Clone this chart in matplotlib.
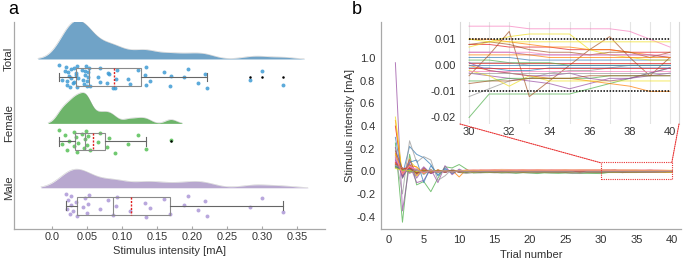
import numpy as np
import matplotlib
matplotlib.use("Agg")
from matplotlib import pyplot as plt
from matplotlib.patches import Rectangle, ConnectionPatch

plt.rcParams["font.family"] = ["Liberation Sans", "DejaVu Sans"]
plt.rcParams["axes.unicode_minus"] = False

# --- panel a: threshold stimulus intensity per subject [mA]
female_ma = [0.0105, 0.014, 0.019, 0.022, 0.025, 0.031, 0.032, 0.034, 0.036, 0.038,
             0.043, 0.046, 0.047, 0.049, 0.050, 0.052, 0.054, 0.066, 0.069, 0.079,
             0.081, 0.090, 0.109, 0.123, 0.135, 0.170]
male_ma = [0.020, 0.022, 0.023, 0.026, 0.027, 0.028, 0.030, 0.035, 0.036, 0.045,
           0.047, 0.050, 0.052, 0.053, 0.069, 0.080, 0.087, 0.092, 0.093, 0.111,
           0.133, 0.135, 0.140, 0.160, 0.168, 0.189, 0.195, 0.208, 0.219, 0.221,
           0.283, 0.300, 0.330]
group_names = ["Total", "Female", "Male"]
a_xticks = [0.0, 0.05, 0.10, 0.15, 0.20, 0.25, 0.30, 0.35]
a_xticklabels = ["0.0", "0.05", "0.10", "0.15", "0.20", "0.25", "0.30", "0.35"]

# --- panel b: per-trial value for each subject, in µA (1 µA = 0.001 mA)
trial_numbers = list(range(1, 41))
subject_trials_ua = [
    [400, -50, 40, -20, 15, -10, 5, -5, 5, -5, 4, -3, 6, 2, 5, 3, 7, 6, 8, 5, 9, 7, 8, 6, 7, 8, 7, 8, 8, 8, 8, 7, 7, 7, 6, 6, 6, 5, 5, 5],
    [120, -30, 220, 150, 120, 60, -40, 30, -20, 10, -8, 5, -4, 6, 2, 4, 3, 2, 4, 3, 3, 2, 3, 4, 3, 3, 3, 2, 3, 3, 3, 3, 2, 2, 2, 2, 2, 2, 2, 2],
    [250, -450, 150, -120, -90, -180, -60, 40, 30, 60, 20, -15, -10, -12, -8, -15, -10, -18, -12, -15, -20, -14, -16, -18, -15, -17, -19, -18, -19, -20, -11, -11, -11, -11, -11, -9, -7, -5, -3, -1],
    [960, -350, 60, -100, -80, 20, -100, 50, -30, 20, -10, 8, -5, 4, -3, 2, -4, -2, -3, -2, -4, -3, -2, -3, -4, -3, -3, -2, -3, -3, -4, -5, -6, -7, -9, -7, -5, -5, -4, -3],
    [450, -60, 110, -40, 30, -20, 15, -10, 10, -50, 15, -10, 12, 8, 14, 10, 12, 11, 13, 10, 12, 11, 10, 11, 12, 10, 11, 10, 10, 10, 10, 9, 8, 7, 7, 6, 6, 5, 4, 3],
    [480, -40, 90, 30, -20, 15, -10, 5, -5, 5, 6, 3, 5, 4, 7, 5, 6, 8, -10, 6, 7, 5, 8, 6, 7, 6, 7, 7, 7, 7, 9, 11, 12, 12, 12, 6, 4, 3, 2, 2],
    [180, 20, 30, -20, 10, -15, 10, -5, 5, -5, -5, 4, -3, 3, -2, 2, -6, 5, -4, 2, -3, 4, -2, 3, -5, 2, -3, 4, -2, -4, 4, 13, -12, -6, 0, 6, 11, 3, -4, 3],
    [90, -20, 50, 10, -10, 5, -5, 5, -5, 5, 12, 15, 14, 16, 15, 17, 16, 15, 16, 15, 16, 15, 15, 16, 15, 15, 15, 15, 15, 15, 15, 15, 14, 14, 14, 14, 14, 13, 10, 7],
    [140, -200, 270, 80, 130, 100, -80, -40, 20, -10, -20, -12, -15, -10, -14, -12, -16, -13, -11, -14, -12, -10, -13, -11, -12, -20, -13, -12, -12, -12, -9, -6, -5, -3, -2, -2, -1, 0, 0, 0],
    [60, 30, -10, 5, -5, 5, -5, 5, 0, 5, 2, 1, 3, 1, 2, 0, 1, 2, 1, 1, 2, 1, 1, 0, 1, 1, 1, 1, 1, 1, 1, 1, 1, 1, 1, 1, 1, 1, 1, 1],
    [300, -60, 80, 100, -100, 50, -30, 20, -15, 10, -6, 4, -3, -2, -4, -1, -3, -2, -2, -1, -2, -1, -2, -1, -2, -1, -1, -1, -1, -1, -1, -2, -2, -1, -1, -1, -1, -1, -1, -1],
    [45, 10, 5, -10, 5, -5, 5, -5, 5, -5, 3, 2, 4, 1, 3, 2, 2, 3, 2, 1, 2, 2, 1, 2, 2, 2, 2, 2, 2, 2, 2, 1, 1, 1, 0, 0, 0, 0, 0, 0],
    [210, -50, 100, -30, 40, -20, 10, -5, 5, -5, 8, 6, 7, 5, 6, 5, 6, 5, 5, 6, 5, 5, 6, 5, 5, 5, 5, 5, 5, 5, 5, 5, 4, 4, 4, 4, 4, 4, 4, 3],
    [70, 20, 20, 15, -10, 5, -5, 5, -5, 5, -3, 2, -1, 1, 0, -1, 1, 0, -1, 0, 1, 0, -1, 0, 0, 1, 0, 0, 0, 0, -2, -3, -4, -5, -5, -6, -7, -8, -10, -10],
    [150, -30, 60, -40, 20, -10, 10, -5, 5, -5, -4, -6, -3, -5, -4, -6, -5, -3, -5, -4, -3, -4, -3, -3, -2, -3, -2, -2, -2, -2, -4, -8, -4, -6, -6, -6, -6, -6, -6, -6],
    [40, 15, 10, 5, 0, 5, 0, 0, 0, 5, 6, 4, 7, 5, 6, 8, 5, 7, 6, 8, 7, 6, 8, 7, 8, 7, 8, 8, 8, 8, 9, 8, 6, 5, 5, 4, 5, 5, 3, 5],
    [110, -10, 40, 20, -15, 10, -5, 5, -5, 5, -4, -2, -3, -1, -2, -3, -2, -1, -2, -2, -1, -2, -2, -1, -2, -2, -2, -2, -2, -2, -2, -2, -2, -2, -2, -2, -2, -2, -2, -2],
    [30, 10, -5, 0, 5, 0, 5, 0, 0, 0, 1, 1, 2, 1, 1, 0, 1, 1, 1, 0, 1, 1, 1, 1, 1, 1, 1, 1, 1, 1, 1, 1, 0, 0, 0, 0, 0, 0, 0, 0],
    [80, 25, 30, -10, 10, -5, 5, -5, 5, -5, -3, -2, -1, -2, -1, -1, -2, -1, -1, -1, -1, -1, -1, -1, -1, -1, -1, -1, -1, -1, -1, -1, -1, -1, -1, -1, -1, -1, -1, -1],
    [50, 5, 15, 10, -5, 5, -5, 5, -5, 5, 0, 1, 0, 0, 1, 0, 0, 0, 0, 0, 0, 0, 0, 0, 0, 0, 0, 0, 0, 0, 0, 0, 0, 0, 0, 0, 0, 0, 0, 0],
    [35, 10, 0, -5, 5, -5, 5, 0, 5, -5, -8, -6, -7, -5, -6, -7, -6, -5, -6, -6, -5, -6, -6, -6, -6, -6, -6, -6, -6, -6, -6, -5, -5, -5, -5, -5, -4, -4, -4, -4],
    [100, -40, 70, -60, 30, -20, 10, -10, 5, -5, 3, -2, 2, 0, 1, -1, 0, 1, 0, 1, 0, 1, 0, 1, 0, 1, 1, 1, 1, 1, -2, -3, -4, -4, -3, -5, -6, -5, -3, -1],
    [160, -20, 50, 40, -20, 10, -10, 5, -5, 5, 5, 3, 6, 4, 5, 4, 3, 4, 5, 4, 4, 3, 4, 4, 4, 4, 4, 4, 4, 4, 4, 4, 4, 3, 3, 3, 3, 3, 3, 3],
    [25, 10, 5, 0, 5, 0, 5, 0, 0, 5, 8, 10, 9, 10, 9, 11, 10, 9, 10, 9, 10, 10, 9, 10, 10, 10, 10, 10, 10, 10, 9, 9, 9, 9, 9, 9, 9, 9, 9, 9],
    [65, 15, 25, -15, 10, -5, 5, -5, 5, -5, -4, -5, -6, -5, -7, -6, -5, -6, -7, -6, -7, -6, -7, -7, -7, -7, -7, -7, -7, -7, -6, -6, -5, -5, -5, -4, -4, -4, -4, -4],
    [130, -25, 45, 10, -10, 5, -5, 5, -5, 5, 2, 4, 3, 5, 4, 5, 4, 5, 5, 4, 5, 5, 5, 5, 5, 5, 5, 5, 5, 5, 5, 5, 5, 4, 4, 4, 4, 4, 4, 4],
    [55, 30, -20, 20, -30, 15, -10, 5, -5, 5, -2, -4, -3, -2, -3, -4, -3, -2, -3, -3, -3, -3, -3, -3, -3, -3, -20, -3, -3, -3, -3, -3, -3, -3, -3, -3, -3, -3, -3, -3],
]
b_yticks = [-0.4, -0.2, 0.0, 0.2, 0.4, 0.6, 0.8, 1.0]
b_yticklabels = ["-0.4", "-0.2", "0.0", "0.2", "0.4", "0.6", "0.8", "1.0"]
inset_yticks = [-0.02, -0.01, 0.0, 0.01]
inset_yticklabels = ["-0.02", "-0.01", "0.00", "0.01"]
tolerance_ma = 0.01

# --- styling
fill_colors = ["#70a3c7", "#6db46a", "#b8a8cf"]
dot_colors = ["#3f9bd4", "#57c057", "#ad98d8"]
set1 = ["#e41a1c", "#377eb8", "#4daf4a", "#984ea3", "#ff7f00",
        "#f0e020", "#a65628", "#f781bf", "#999999"]
kde_heights = [0.60, 0.48, 0.29]
box_offset = 0.28
spine_color = "#a8a8a8"
text_color = "#333333"


def kde_curve(values, factor=0.2, cut=2.0, n=300):
    v = np.asarray(values)
    bw = factor * v.std(ddof=1)
    grid = np.linspace(v.min() - cut * bw, v.max() + cut * bw, n)
    dens = np.exp(-0.5 * ((grid[:, None] - v[None, :]) / bw) ** 2).sum(axis=1)
    return grid, dens / dens.max()


def style_axes(ax):
    for side in ("top", "right"):
        ax.spines[side].set_visible(False)
    for side in ("left", "bottom"):
        ax.spines[side].set_color(spine_color)
        ax.spines[side].set_linewidth(0.9)


fig = plt.figure(figsize=(6.85, 2.64), dpi=100)

# ---------------------------------------------------------------- panel a
ax_a = fig.add_axes([14 / 685, 35 / 264, 311 / 685, 207 / 264])
style_axes(ax_a)
groups = [np.array(female_ma + male_ma), np.array(female_ma), np.array(male_ma)]

for i, vals in enumerate(groups):
    grid, dens = kde_curve(vals)
    ax_a.fill_between(grid, i, i - kde_heights[i] * dens, color=fill_colors[i],
                      lw=0, zorder=1)
    ax_a.plot(grid, i - kde_heights[i] * dens, color="#8a8a8a", lw=0.4, alpha=0.4,
              zorder=1)
    jitter = ((np.arange(len(vals)) * 0.6180339) % 1.0 - 0.5) * 0.36
    ax_a.scatter(vals, i + box_offset + jitter, s=8, color=dot_colors[i],
                 alpha=0.85, lw=0, zorder=2)

ax_a.boxplot(groups, positions=[i + box_offset for i in range(3)], widths=0.27,
             orientation="horizontal", showmeans=True, meanline=True,
             patch_artist=True, manage_ticks=False, zorder=3,
             boxprops=dict(facecolor="none", edgecolor="#8a8a8a", lw=0.8),
             whiskerprops=dict(color="#666666", lw=0.8),
             capprops=dict(color="#666666", lw=0.8),
             medianprops=dict(color="#8a8a8a", lw=0.8),
             meanprops=dict(color="#e02020", lw=1.0, ls=(0, (1.5, 1))),
             flierprops=dict(marker="o", markersize=1.8, markeredgewidth=0,
                             markerfacecolor="black"))

ax_a.set_xlim(-0.054, 0.39)
ax_a.set_ylim(2.64, -0.574)
ax_a.set_xticks(a_xticks, a_xticklabels)
ax_a.set_yticks(range(3), group_names, rotation=90, va="center", fontsize=8.2,
                color=text_color)
ax_a.tick_params(axis="y", length=0, pad=0)
ax_a.tick_params(axis="x", direction="in", length=2, color=spine_color,
                 labelsize=7.8, labelcolor=text_color, pad=2)
ax_a.set_xlabel("Stimulus intensity [mA]", fontsize=8, color=text_color, labelpad=3)
fig.text(8 / 685, 1 - 10 / 264, "a", fontsize=13, va="center", ha="left")

# ---------------------------------------------------------------- panel b
ax_b = fig.add_axes([381 / 685, 35 / 264, 300 / 685, 207 / 264])
style_axes(ax_b)
for k, row in enumerate(subject_trials_ua):
    ax_b.plot(trial_numbers, np.array(row) / 1000.0, color=set1[k % 9], lw=0.7,
              alpha=0.75)

ax_b.set_xlim(-1.03, 41.3)
ax_b.set_ylim(-0.51, 1.32)
ax_b.set_xticks(range(0, 41, 5))
ax_b.set_yticks(b_yticks, b_yticklabels)
ax_b.tick_params(length=0, labelsize=8, labelcolor=text_color)
ax_b.tick_params(axis="y", pad=4)
ax_b.tick_params(axis="x", pad=4)
ax_b.set_xlabel("Trial number", fontsize=8, color=text_color, labelpad=4)
ax_b.set_ylabel("Stimulus intensity [mA]", fontsize=8, color=text_color, labelpad=1)
ax_b.add_patch(Rectangle((30, -0.07), 10, 0.15, fill=False, ec="#e83030",
                         lw=0.8, ls=(0, (1, 1)), zorder=5))
fig.text(352 / 685, 1 - 10 / 264, "b", fontsize=13, va="center", ha="left")

# inset: trials 30-40
ax_in = fig.add_axes([460 / 685, 140 / 264, 219 / 685, 102 / 264])
ax_in.set_facecolor("white")
for side in ("top", "bottom"):
    ax_in.spines[side].set_visible(False)
for side in ("left", "right"):
    ax_in.spines[side].set_color("#d8d8d8")
    ax_in.spines[side].set_linewidth(0.8)
late = [t for t in trial_numbers if t >= 30]
for k, row in enumerate(subject_trials_ua):
    ax_in.plot(late, np.array(row[29:]) / 1000.0, color=set1[k % 9], lw=0.7,
               alpha=0.7)
ax_in.hlines([tolerance_ma, -tolerance_ma], 30, 40, colors="black", lw=1.1,
             linestyles=(0, (1, 1)), zorder=4)
ax_in.set_xlim(29.55, 40.45)
ax_in.set_ylim(-0.0225, 0.0166)
ax_in.set_xticks(range(30, 41, 2))
ax_in.set_xticks(range(30, 41), minor=True)
ax_in.grid(axis="x", which="both", color="#e4e4e4", lw=0.8)
ax_in.set_axisbelow(True)
ax_in.set_yticks(inset_yticks, inset_yticklabels)
ax_in.tick_params(which="both", length=0, labelsize=8, labelcolor=text_color)
ax_in.tick_params(axis="x", pad=2)
ax_in.tick_params(axis="y", pad=3)

for xa, xb in ((0, 30), (1, 40)):
    con = ConnectionPatch(xyA=(xa, 0), coordsA=ax_in.transAxes,
                          xyB=(xb, 0.075), coordsB=ax_b.transData,
                          color="#e83030", lw=0.8, ls=(0, (1, 1)))
    fig.add_artist(con)

fig.savefig("out.png", dpi=100)
